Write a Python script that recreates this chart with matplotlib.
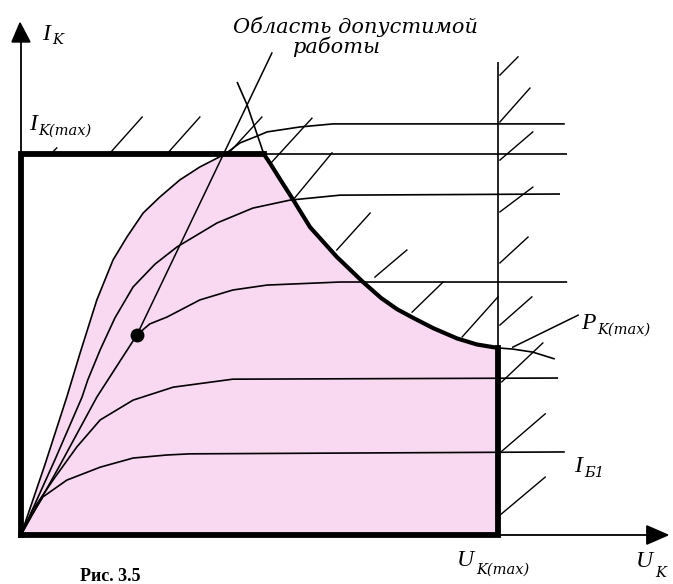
import matplotlib
matplotlib.use("Agg")
import matplotlib.pyplot as plt
from matplotlib.patches import Polygon

W, H, DPI = 673, 584, 100

# Limits of the safe operating area (arbitrary units, U_K(max) = I_K(max) = 10)
U_K_MAX = 10.0
I_K_MAX = 10.0

# Output characteristics I_K(U_K) for several base currents
char1_u = [0, 0.50, 0.96, 1.24, 1.59, 1.93, 2.22, 2.56, 2.91, 3.33, 3.75, 4.28,
           4.59, 4.91, 5.16, 5.85, 6.54, 11.40]
char1_i = [0, 1.84, 3.62, 4.78, 6.17, 7.22, 7.82, 8.45, 8.87, 9.32, 9.66, 10.0,
           10.29, 10.45, 10.58, 10.71, 10.79, 10.79]
char2_u = [0, 0.71, 1.28, 1.40, 1.66, 1.97, 2.35, 2.81, 3.27, 4.11, 4.86, 5.64, 6.69, 11.30]
char2_i = [0, 1.97, 3.62, 4.07, 4.86, 5.70, 6.51, 7.11, 7.56, 8.19, 8.58, 8.79, 8.92, 8.95]
char3_u = [0, 0.82, 1.59, 2.43, 2.70, 3.06, 3.75, 4.44, 5.16, 6.69, 11.45]
char3_i = [0, 1.84, 3.62, 5.25, 5.54, 5.72, 6.17, 6.43, 6.56, 6.64, 6.64]
char4_u = [0, 0.25, 0.67, 1.17, 1.66, 2.35, 3.19, 4.44, 11.26]
char4_i = [0, 0.66, 1.44, 2.31, 3.02, 3.54, 3.88, 4.09, 4.12]
char5_u = [0, 0.19, 0.46, 0.96, 1.66, 2.35, 3.06, 3.54, 11.40]
char5_i = [0, 0.45, 1.00, 1.44, 1.78, 2.02, 2.10, 2.13, 2.18]
imax_line_u = [0, 11.45]

# Maximum power dissipation curve P_K(max)
pmax_u = [5.09, 5.22, 5.45, 5.68, 6.06, 6.62, 7.17, 7.55, 7.88, 8.22, 8.64, 9.14, 9.56, 10.0]
pmax_i = [10.0, 9.76, 9.30, 8.85, 8.08, 7.30, 6.64, 6.22, 5.93, 5.70, 5.43, 5.16, 5.00, 4.91]
pmax_ext_top_u = [5.09, 4.74, 4.53]
pmax_ext_top_i = [10.0, 11.29, 11.89]
pmax_ext_right_u = [10.0, 10.31, 10.73, 11.19]
pmax_ext_right_i = [4.91, 4.88, 4.80, 4.62]
ukmax_line_top = 12.41

# Marked operating point
point_u, point_i = 2.43, 5.25

# Hatching of the forbidden region: (u0, i0, u1, i1)
hatches = [
    (0.65, 10.03, 0.75, 10.16), (1.87, 10.03, 2.54, 10.97), (3.08, 10.03, 3.75, 10.97),
    (4.36, 10.03, 5.05, 10.97),
    (5.26, 9.79, 6.10, 10.94), (5.74, 8.85, 6.52, 10.03), (6.62, 7.48, 7.32, 8.45),
    (7.42, 6.77, 8.09, 7.48), (8.20, 5.85, 8.85, 6.64), (9.25, 5.20, 10.0, 6.25),
    (10.04, 12.07, 10.42, 12.55), (10.04, 10.84, 10.67, 11.73), (10.04, 9.84, 10.73, 10.58),
    (10.04, 8.48, 10.73, 9.13), (10.04, 7.14, 10.63, 7.82), (10.04, 5.51, 10.71, 6.25),
    (10.08, 4.02, 10.94, 5.04), (10.08, 2.20, 10.99, 3.18), (10.04, 0.52, 10.99, 1.52),
]

# Leader lines for the annotations
area_leader = (point_u, point_i, 5.26, 12.65)
pmax_leader = (10.31, 4.93, 11.68, 5.77)

PINK = "#F9D9F2"
INK = "black"

fig = plt.figure(figsize=(W / DPI, H / DPI), dpi=DPI)
ax = fig.add_axes([0, 0, 1, 1])
ax.set_xlim(-0.440, 13.669)
ax.set_ylim(-1.286, 14.042)
ax.axis("off")

# Safe operating area fill
k = char1_i.index(I_K_MAX)
area_u = char1_u[:k + 1] + pmax_u + [U_K_MAX, 0]
area_i = char1_i[:k + 1] + pmax_i + [0, 0]
ax.fill(area_u, area_i, color=PINK, lw=0, zorder=1)

thin = dict(color=INK, lw=1.2, zorder=3, solid_capstyle="butt")
for u, i in [(char1_u, char1_i), (char2_u, char2_i), (char3_u, char3_i),
             (char4_u, char4_i), (char5_u, char5_i)]:
    ax.plot(u, i, **thin)
ax.plot(imax_line_u, [I_K_MAX, I_K_MAX], **thin)
ax.plot(pmax_ext_top_u, pmax_ext_top_i, **thin)
ax.plot(pmax_ext_right_u, pmax_ext_right_i, **thin)
ax.plot([U_K_MAX, U_K_MAX], [pmax_i[-1], ukmax_line_top], **thin)

for u0, i0, u1, i1 in hatches:
    ax.plot([u0, u1], [i0, i1], color=INK, lw=1.0, zorder=3)
for u0, i0, u1, i1 in (area_leader, pmax_leader):
    ax.plot([u0, u1], [i0, i1], color=INK, lw=1.1, zorder=3)

# Coordinate axes with arrows
ax.plot([0, 0], [0, 13.0], color=INK, lw=1.3, zorder=4)
ax.plot([0, 13.2], [0, 0], color=INK, lw=1.3, zorder=4)
ax.add_patch(Polygon([[-0.19, 12.94], [0.19, 12.94], [-0.02, 13.44]], closed=True,
                     color=INK, zorder=5))
ax.add_patch(Polygon([[13.12, -0.24], [13.12, 0.24], [13.56, 0]], closed=True,
                     color=INK, zorder=5))

# Boundary of the safe operating area
ax.plot([0, 0, pmax_u[0]], [0, I_K_MAX, I_K_MAX], color=INK, lw=4.2, zorder=6,
        solid_joinstyle="miter", solid_capstyle="projecting")
ax.plot(pmax_u, pmax_i, color=INK, lw=3.0, zorder=6, solid_capstyle="round",
        solid_joinstyle="round")
ax.plot([U_K_MAX, U_K_MAX, 0], [pmax_i[-1], 0, 0], color=INK, lw=4.2, zorder=6,
        solid_joinstyle="miter", solid_capstyle="projecting")

ax.plot([point_u], [point_i], "o", color=INK, ms=9, zorder=7)


def put(x, y, s, size, family="Liberation Serif", style="italic", weight="normal"):
    fig.text(x / W, 1 - y / H, s, fontsize=size, family=family, style=style,
             weight=weight, ha="left", va="baseline", color=INK)


def sym(x, y, main, sub, sub_dx, sub_dy, size=17, sub_size=10.5):
    put(x, y, main, size)
    put(x + sub_dx, y + sub_dy, sub, sub_size, family="DejaVu Serif")


sym(42, 40, "I", "K", 10, 4)
sym(29, 130, "I", "K(max)", 9, 5)
sym(581, 329, "P", "K(max)", 16, 5)
sym(574, 472, "I", "Б1", 10, 5)
sym(457, 566, "U", "K(max)", 19, 8)
sym(636, 567, "U", "K", 19, 10)

put(233, 33, "Область допустимой", 15, family="DejaVu Serif")
put(292, 53, "работы", 15, family="DejaVu Serif")
put(80, 581, "Рис. 3.5", 13, style="normal", weight="bold")

fig.savefig("out.png", dpi=DPI)
